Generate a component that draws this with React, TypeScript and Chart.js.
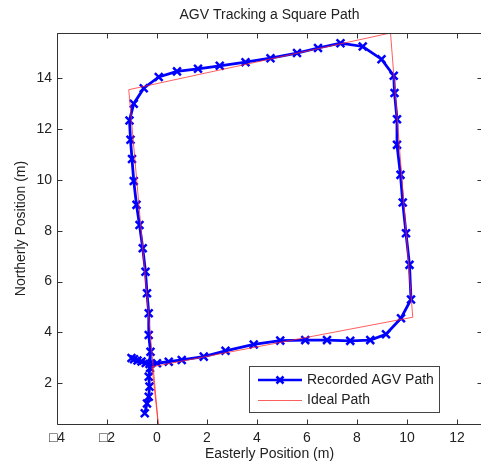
import React, { useEffect, useRef } from 'react';
import { Chart, registerables } from 'chart.js';

Chart.register(...registerables);

const chartTitle = 'AGV Tracking a Square Path';
const xAxisTitle = 'Easterly Position (m)';
const yAxisTitle = 'Northerly Position (m)';
const seriesNames = ['Recorded AGV Path', 'Ideal Path'];

const xTickValues = [-4, -2, 0, 2, 4, 6, 8, 10, 12];
const yTickValues = [2, 4, 6, 8, 10, 12, 14];

const recordedX = [
  -1.02, -0.92, -0.78, -0.62, -0.45, -0.3, 0.0, 0.47, 0.99, 1.87, 2.74, 3.87, 4.93, 5.93, 6.8, 7.73, 8.53,
  9.16, 9.76, 10.16, 10.1, 9.96, 9.83, 9.74, 9.6, 9.6, 9.5, 9.47, 8.98, 8.23, 7.34, 6.44, 5.6, 4.54, 3.54,
  2.51, 1.64, 0.8, 0.07, -0.53, -0.93, -1.1, -1.06, -1.0, -0.93, -0.82, -0.7, -0.57, -0.46, -0.4, -0.33,
  -0.33, -0.26, -0.28, -0.33, -0.3, -0.33, -0.4, -0.49,
];
const recordedY = [
  3.0, 2.95, 2.9, 2.86, 2.8, 2.76, 2.79, 2.85, 2.92, 3.05, 3.28, 3.53, 3.68, 3.7, 3.7, 3.67, 3.7,
  3.93, 4.56, 5.3, 6.66, 7.9, 9.11, 10.2, 11.38, 12.39, 13.42, 14.1, 14.75, 15.25, 15.38, 15.19, 14.99, 14.79, 14.63,
  14.49, 14.37, 14.27, 14.05, 13.61, 13.0, 12.34, 11.58, 10.82, 9.96, 9.02, 8.23, 7.31, 6.39, 5.54, 4.76,
  3.9, 3.24, 2.6, 2.26, 1.87, 1.47, 1.21, 0.82,
];

const idealX = [0.05, -0.2, 10.23, 9.34, -1.13, 0.05];
const idealY = [0.4, 2.65, 4.6, 15.78, 13.55, 0.4];

const FONT = '"Liberation Sans", Arial, Helvetica, sans-serif';
const TEXT = '#222222';
const AXIS = '#333333';
const BLUE = '#0000ff';
const RED = 'rgba(255, 40, 40, 0.75)';

const framePlugin = {
  id: 'frame',
  afterDatasetsDraw(chart: any) {
    const { ctx, chartArea: a, scales } = chart;
    const L = Math.round(a.left) + 0.5;
    const T = Math.round(a.top) + 0.5;
    const R = Math.round(a.right) + 0.5;
    const B = Math.round(a.bottom) + 0.5;
    ctx.save();
    ctx.strokeStyle = AXIS;
    ctx.lineWidth = 1;
    ctx.beginPath();
    ctx.rect(L, T, R - L, B - T);
    ctx.stroke();
    const tl = 5;
    ctx.beginPath();
    for (const v of xTickValues) {
      const px = Math.round(scales.x.getPixelForValue(v)) + 0.5;
      ctx.moveTo(px, B);
      ctx.lineTo(px, B - tl);
      ctx.moveTo(px, T);
      ctx.lineTo(px, T + tl);
    }
    for (const v of yTickValues) {
      const py = Math.round(scales.y.getPixelForValue(v)) + 0.5;
      ctx.moveTo(L, py);
      ctx.lineTo(L + tl, py);
      ctx.moveTo(R, py);
      ctx.lineTo(R - tl, py);
    }
    ctx.stroke();

    // title
    ctx.fillStyle = TEXT;
    ctx.font = `14px ${FONT}`;
    ctx.textAlign = 'center';
    ctx.textBaseline = 'middle';
    ctx.fillText(chartTitle, (a.left + a.right) / 2, 15);

    // legend box
    const lx = 249.5, ly = 366.5, lw = 190, lh = 46;
    ctx.fillStyle = '#ffffff';
    ctx.fillRect(lx, ly, lw, lh);
    ctx.strokeStyle = '#444444';
    ctx.strokeRect(lx, ly, lw, lh);
    const rows = [380, 400];
    // recorded
    ctx.strokeStyle = BLUE;
    ctx.lineWidth = 2.5;
    ctx.beginPath();
    ctx.moveTo(258, rows[0]);
    ctx.lineTo(302, rows[0]);
    ctx.stroke();
    const mx = 280, my = rows[0], r = 3.5;
    ctx.beginPath();
    ctx.moveTo(mx - r, my - r);
    ctx.lineTo(mx + r, my + r);
    ctx.moveTo(mx + r, my - r);
    ctx.lineTo(mx - r, my + r);
    ctx.stroke();
    // ideal
    ctx.strokeStyle = RED;
    ctx.lineWidth = 1;
    ctx.beginPath();
    ctx.moveTo(258, rows[1] + 0.5);
    ctx.lineTo(302, rows[1] + 0.5);
    ctx.stroke();
    ctx.fillStyle = TEXT;
    ctx.textAlign = 'left';
    ctx.fillText(seriesNames[0], 307, rows[0]);
    ctx.fillText(seriesNames[1], 307, rows[1]);
    ctx.restore();
  },
};

export default function App() {
  const ref = useRef<HTMLCanvasElement | null>(null);

  useEffect(() => {
    if (!ref.current) return;
    const recorded = recordedX.map((x, i) => ({ x, y: recordedY[i] }));
    const ideal = idealX.map((x, i) => ({ x, y: idealY[i] }));
    const chart = new Chart(ref.current, {
      type: 'scatter',
      data: {
        datasets: [
          {
            label: seriesNames[0],
            data: recorded,
            showLine: true,
            borderColor: BLUE,
            backgroundColor: BLUE,
            borderWidth: 2.8,
            pointStyle: 'crossRot',
            pointRadius: 5.5,
            pointBorderWidth: 2.5,
            pointBorderColor: BLUE,
            order: 1,
          },
          {
            label: seriesNames[1],
            data: ideal,
            showLine: true,
            borderColor: RED,
            borderWidth: 1,
            pointRadius: 0,
            order: 0,
          },
        ],
      },
      options: {
        responsive: false,
        animation: false,
        devicePixelRatio: 1,
        layout: { padding: { top: 33, right: 6, left: 0, bottom: 0 } },
        plugins: {
          legend: { display: false },
          tooltip: { enabled: false },
          title: { display: false },
        },
        scales: {
          x: {
            type: 'linear',
            min: -4,
            max: 13,
            grid: { display: false, drawTicks: false },
            border: { display: false },
            afterBuildTicks: (s: any) => {
              s.ticks = xTickValues.map((v) => ({ value: v }));
            },
            afterFit: (s: any) => {
              s.height = 39;
            },
            ticks: {
              autoSkip: false,
              maxRotation: 0,
              padding: 6,
              color: TEXT,
              font: { family: FONT, size: 14 },
              callback: (v: any) => (v < 0 ? '\u25A1' + Math.abs(v) : String(v)),
            },
            title: {
              display: true,
              text: xAxisTitle,
              color: TEXT,
              font: { family: FONT, size: 14 },
              padding: { top: 0, bottom: 0 },
            },
          },
          y: {
            type: 'linear',
            min: 0.4,
            max: 15.78,
            grid: { display: false, drawTicks: false },
            border: { display: false },
            afterBuildTicks: (s: any) => {
              s.ticks = yTickValues.map((v) => ({ value: v }));
            },
            afterFit: (s: any) => {
              s.width = 57;
            },
            ticks: {
              padding: 5,
              color: TEXT,
              font: { family: FONT, size: 14 },
            },
            title: {
              display: true,
              text: yAxisTitle,
              color: TEXT,
              font: { family: FONT, size: 14 },
              padding: { top: 13, bottom: 0 },
            },
          },
        },
      },
      plugins: [framePlugin],
    });
    return () => chart.destroy();
  }, []);

  return (
    <div style={{ position: 'fixed', left: 0, top: 0, width: 481, height: 463, overflow: 'hidden', background: '#fff' }}>
      <canvas ref={ref} width={490} height={463} style={{ display: 'block' }} />
    </div>
  );
}
